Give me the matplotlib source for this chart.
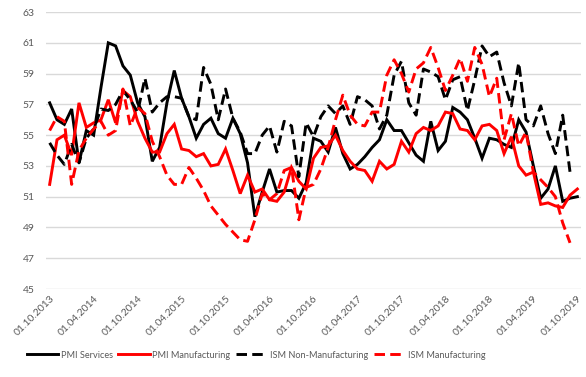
import pandas as pd
import matplotlib
matplotlib.use('Agg')
import matplotlib.pyplot as plt

plt.rcParams['font.family'] = ['Lato', 'DejaVu Sans']

# monthly data, Oct 2013 - Oct 2019
dates = pd.date_range('2013-10-01', '2019-10-01', freq='MS')

pmi_services = [57.1, 56.0, 55.7, 56.7, 53.2, 55.3, 55.0, 58.1, 61.0, 60.8,
                59.5, 58.9, 57.1, 56.2, 53.3, 54.2, 57.1, 59.2, 57.4, 56.2,
                54.8, 55.7, 56.1, 55.1, 54.8, 56.1, 55.1, 53.2, 49.7, 51.3,
                52.8, 51.3, 51.4, 51.4, 50.9, 51.9, 54.8, 54.6, 53.9, 55.5,
                53.8, 52.8, 53.1, 53.6, 54.2, 54.7, 56.0, 55.3, 55.3, 54.5,
                53.7, 53.3, 55.9, 54.0, 54.6, 56.8, 56.5, 56.0, 54.8, 53.5,
                54.8, 54.7, 54.4, 54.2, 56.0, 55.2, 53.0, 50.9, 51.5, 53.0,
                50.7, 50.9, 51.0]

pmi_manufacturing = [51.8, 54.7, 55.0, 53.7, 57.1, 55.5, 55.8, 56.0, 57.3, 55.8,
                     57.9, 57.5, 55.9, 54.8, 53.9, 53.9, 55.1, 55.7, 54.1, 54.0,
                     53.6, 53.8, 53.0, 53.1, 54.1, 52.7, 51.2, 52.4, 51.3, 51.5,
                     50.8, 50.7, 51.3, 52.9, 52.0, 51.5, 53.5, 54.2, 54.3, 55.0,
                     54.0, 53.3, 52.8, 52.7, 52.0, 53.3, 52.8, 53.1, 54.6, 53.9,
                     55.1, 55.5, 55.3, 55.6, 56.5, 56.4, 55.4, 55.3, 54.7, 55.6,
                     55.7, 55.3, 53.8, 54.9, 53.0, 52.4, 52.6, 50.5, 50.6, 50.4,
                     50.3, 51.1, 51.5]

ism_non_manufacturing = [54.5, 53.7, 53.1, 54.4, 53.2, 54.8, 55.4, 56.7, 56.6, 57.0,
                         57.9, 57.3, 56.5, 58.7, 56.5, 57.1, 57.5, 57.5, 57.4, 56.2,
                         56.0, 59.4, 58.3, 56.0, 58.0, 56.1, 55.2, 53.8, 53.8, 55.0,
                         55.6, 53.9, 55.9, 55.6, 52.3, 55.8, 54.9, 56.2, 56.9, 56.4,
                         56.9, 55.7, 57.5, 57.3, 56.9, 55.4, 56.3, 58.9, 59.8, 57.1,
                         56.3, 59.3, 59.1, 58.8, 57.3, 58.6, 58.8, 56.6, 58.6, 60.8,
                         60.1, 60.4, 58.4, 56.9, 59.7, 56.0, 55.6, 56.9, 55.1, 53.8,
                         56.3, 52.6, None]

ism_manufacturing = [55.3, 56.2, 55.9, 51.8, 54.0, 54.8, 55.4, 55.9, 55.0, 55.3,
                     58.0, 55.6, 56.8, 56.4, 54.6, 53.6, 52.4, 51.8, 51.8, 52.9,
                     52.2, 51.4, 50.4, 49.8, 49.2, 48.7, 48.2, 48.1, 49.5, 51.2,
                     50.8, 51.2, 52.7, 52.9, 49.5, 51.6, 51.8, 52.8, 54.2, 56.0,
                     57.6, 56.3, 55.7, 55.6, 56.5, 56.5, 58.9, 59.9, 59.0, 57.8,
                     59.3, 59.7, 60.7, 59.4, 57.9, 58.9, 60.0, 58.5, 60.7, 59.6,
                     57.5, 58.7, 54.7, 56.4, 54.3, 55.2, 52.6, 52.1, 51.6, 51.0,
                     49.3, 48.0, None]

df = pd.DataFrame({
    'PMI Services': pmi_services,
    'PMI Manufacturing': pmi_manufacturing,
    'ISM Non-Manufacturing': ism_non_manufacturing,
    'ISM Manufacturing': ism_manufacturing,
}, index=dates, dtype=float)

styles = {
    'PMI Services': ('black', '-'),
    'PMI Manufacturing': ('#ff0000', '-'),
    'ISM Non-Manufacturing': ('black', '--'),
    'ISM Manufacturing': ('#ff0000', '--'),
}

fig = plt.figure(figsize=(5.86, 3.77), dpi=100)
ax = fig.add_axes([0.0785, 0.2334, 0.913, 0.7346])

x = range(len(df))
for name, (color, ls) in styles.items():
    line, = ax.plot(x, df[name], color=color, linestyle=ls, linewidth=2.1,
                    label=name, solid_joinstyle='miter')
    if ls == '--':
        line.set_dashes((3.6, 1.8))

ax.set_xlim(-0.5, len(df) - 0.5)
ax.set_ylim(45, 63)
ax.set_yticks(range(45, 64, 2))
ax.grid(axis='y', color='#d9d9d9', linewidth=1)
ax.set_axisbelow(True)
for s in ax.spines.values():
    s.set_visible(False)
ax.tick_params(length=0, labelsize=7.5, labelcolor='#595959')
ax.tick_params(axis='y', pad=8)

ticks = list(range(0, len(df), 6))
ax.set_xticks(ticks)
ax.set_xticklabels([dates[i].strftime('%d.%m.%Y') for i in ticks],
                   rotation=45, ha='right', rotation_mode='anchor')

fig.legend(loc='center', bbox_to_anchor=(0.437, 0.058), ncol=4, frameon=False,
           fontsize=6.6, handlelength=3.4, handletextpad=0.3, columnspacing=0.6,
           labelcolor='#595959')

fig.savefig('out.png', dpi=100)
